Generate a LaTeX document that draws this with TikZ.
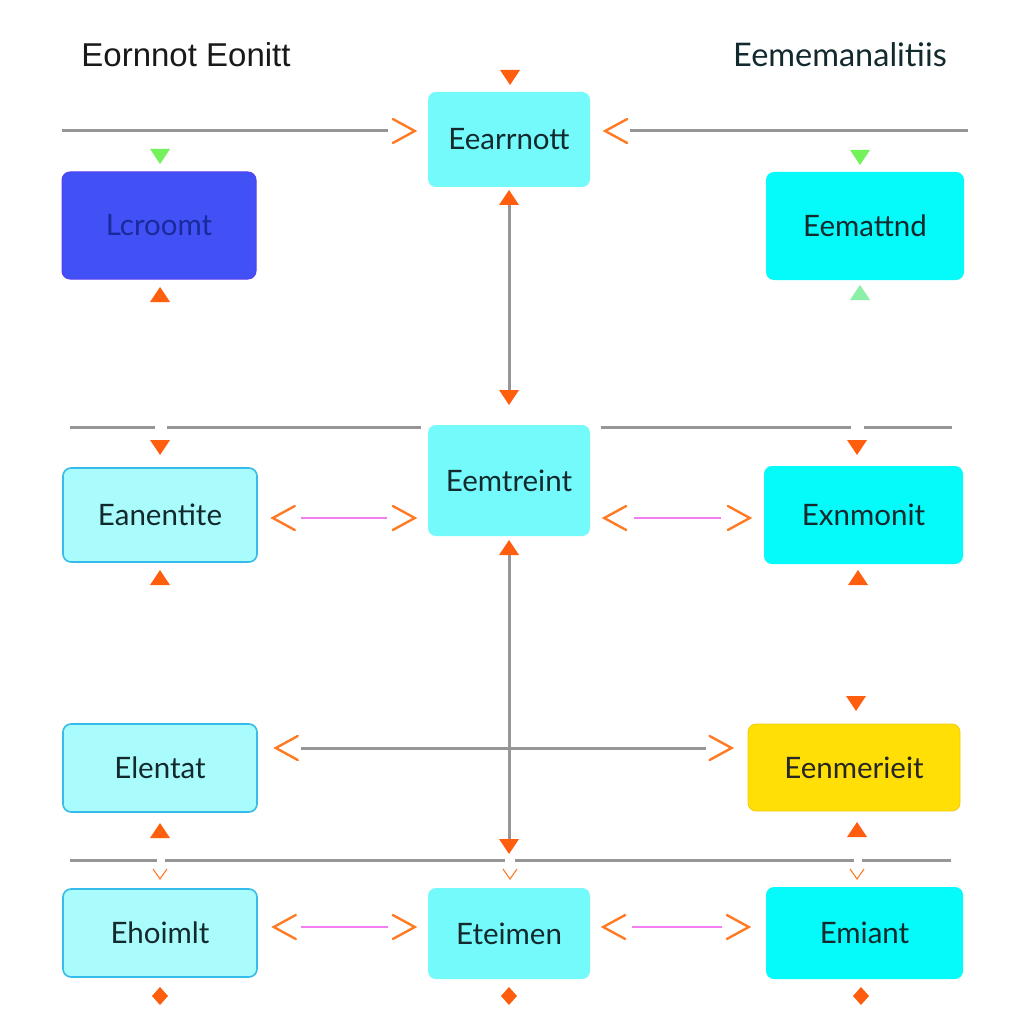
\documentclass[tikz,border=0pt]{standalone}
\usepackage{fontspec}
\setmainfont{Lato}
\newfontfamily\arialf{Liberation Sans}
\definecolor{orng}{HTML}{FF5E0E}
\definecolor{chevc}{HTML}{FF7A22}
\definecolor{gline}{HTML}{979595}
\definecolor{pinkl}{HTML}{F27EF0}
\definecolor{lcyan}{HTML}{74FAFA}
\definecolor{cyanf}{HTML}{05FAFA}
\definecolor{pcyan}{HTML}{AAFCFC}
\definecolor{pborder}{HTML}{36BCEB}
\definecolor{bluef}{HTML}{4151F6}
\definecolor{blueb}{HTML}{5A3FEF}
\definecolor{bluet}{HTML}{1A2A9A}
\definecolor{yellf}{HTML}{FFDF05}
\definecolor{yellb}{HTML}{F2CC10}
\definecolor{txt}{HTML}{12292D}
\definecolor{grn}{HTML}{74F25C}
\definecolor{grnb}{HTML}{8CEFA6}
\tikzset{
  box/.style={rounded corners=8pt, inner sep=0pt, align=center, text=txt,
    font=\fontsize{29.5}{32}\selectfont},
  paleb/.style={box, fill=pcyan, draw=pborder, line width=1.6pt},
  lcb/.style={box, fill=lcyan},
  cyb/.style={box, fill=cyanf},
  glin/.style={draw=gline, line width=3pt},
  plin/.style={draw=pinkl, line width=1.4pt},
  triD/.pic={\fill[#1] (-10,-7) -- (10,-7) -- (0,8) -- cycle;},
  triU/.pic={\fill[#1] (-10,7) -- (10,7) -- (0,-8) -- cycle;},
  chevR/.pic={\draw[chevc, line width=2.4pt, line cap=round] (-22,-12) -- (0,0) -- (-22,12);},
  chevL/.pic={\draw[chevc, line width=2.4pt, line cap=round] (22,-12) -- (0,0) -- (22,12);},
  vsmall/.pic={\draw[chevc, line width=1.1pt] (-7,-5) -- (0,5) -- (7,-5);},
  diam/.pic={\fill[orng] (0,-9) -- (8,0) -- (0,9) -- (-8,0) -- cycle;}
}
\begin{document}
\begin{tikzpicture}[x=1pt,y=-1pt]
\useasboundingbox[fill=white] (0,0) rectangle (1024,1024);

% titles
\node[font=\arialf\fontsize{33}{36}\selectfont, text=black!90] (t1) at (186,55) {Eornnot Eonitt};
\node[font=\fontsize{32.5}{36}\selectfont, text=txt] (t2) at (840,55) {Eememanalitiis};

% nodes
\node[lcb, minimum width=162pt, minimum height=95pt] (top) at (509,139.5) {Eearrnott};
\node[box, fill=bluef, draw=blueb, line width=1pt, text=bluet, minimum width=194pt, minimum height=107pt] (blue) at (159,225.5) {Lcroomt};
\node[cyb, minimum width=198pt, minimum height=108pt] (emat) at (865,226) {Eemattnd};
\node[lcb, minimum width=162pt, minimum height=111pt] (mid) at (509,480.5) {Eemtreint};
\node[paleb, minimum width=194pt, minimum height=94pt] (ean) at (160,515) {Eanentite};
\node[cyb, minimum width=199pt, minimum height=98pt] (exn) at (863.5,515) {Exnmonit};
\node[paleb, minimum width=194pt, minimum height=88pt] (ele) at (160,768) {Elentat};
\node[box, fill=yellf, draw=yellb, line width=0.8pt, text=black!85, minimum width=212pt, minimum height=87pt] (yel) at (854,767.5) {Eenmerieit};
\node[paleb, minimum width=194pt, minimum height=88pt] (eho) at (160,933) {Ehoimlt};
\node[lcb, minimum width=162pt, minimum height=91pt] (ete) at (509,933.5) {Eteimen};
\node[cyb, minimum width=197pt, minimum height=92pt] (emi) at (864.5,933) {Emiant};

% top horizontal lines
\coordinate (tl) at (62,131);
\coordinate (tr) at (968,131);
\draw[glin] (tl) -- ([xshift=-40pt]top.west |- tl);
\pic at ([xshift=-13pt]top.west |- tl) {chevR};
\draw[glin] (tr) -- ([xshift=40pt]top.east |- tr);
\pic at ([xshift=15pt]top.east |- tr) {chevL};

% markers around top node and vertical connector
\pic at (510,77) {triD=orng};
\pic at (509,198) {triU=orng};
\draw[glin] ([yshift=-18pt]top.south) -- ([yshift=30pt]mid.north);
\pic at (509,397) {triD=orng};

% blue / emat markers
\pic at (160,156) {triD=grn};
\pic at (160,295) {triU=orng};
\pic at (860,157) {triD=grn};
\pic at (860,293) {triU=grnb};

% mid row horizontal lines
\coordinate (ml) at (70,427);
\coordinate (mr) at (952,427);
\draw[glin] (ml) -- (155,427);
\draw[glin] (167,427) -- ([xshift=-7pt]mid.west |- ml);
\draw[glin] ([xshift=11pt]mid.east |- mr) -- (851,427);
\draw[glin] (864,427) -- (mr);
\pic at (160,447) {triD=orng};
\pic at (857,447) {triD=orng};
\pic at (160,578) {triU=orng};
\pic at (858,578) {triU=orng};
\pic at (509,548) {triU=orng};

% pink connectors mid row
\draw[plin] ([xshift=43pt]ean.east |- 0,518) -- ([xshift=-41pt]mid.west |- 0,518);
\pic at ([xshift=15pt]ean.east |- 0,518) {chevL};
\pic at ([xshift=-13pt]mid.west |- 0,518) {chevR};
\draw[plin] ([xshift=44pt]mid.east |- 0,518) -- ([xshift=-43pt]exn.west |- 0,518);
\pic at ([xshift=14pt]mid.east |- 0,518) {chevL};
\pic at ([xshift=-14pt]exn.west |- 0,518) {chevR};

% second vertical connector and cross line
\draw[glin] ([yshift=-19pt]mid.south) -- (509,840);
\pic at (509,846) {triD=orng};
\draw[glin] ([xshift=43pt]ele.east |- 0,748) -- ([xshift=-42pt]yel.west |- 0,748);
\pic at ([xshift=18pt]ele.east |- 0,748) {chevL};
\pic at ([xshift=-16pt]yel.west |- 0,748) {chevR};
\pic at (856,703) {triD=orng};
\pic at (160,831) {triU=orng};
\pic at (857,830) {triU=orng};

% bottom horizontal line
\coordinate (bl) at (70,860);
\coordinate (br) at (951,860);
\draw[glin] (bl) -- (157,860);
\draw[glin] (165,860) -- (505,860);
\draw[glin] (515,860) -- (854,860);
\draw[glin] (862,860) -- (br);
\pic at (160,874) {vsmall};
\pic at (510,874) {vsmall};
\pic at (857,874) {vsmall};

% pink connectors bottom row
\draw[plin] ([xshift=43pt]eho.east |- 0,927) -- ([xshift=-40pt]ete.west |- 0,927);
\pic at ([xshift=16pt]eho.east |- 0,927) {chevL};
\pic at ([xshift=-13pt]ete.west |- 0,927) {chevR};
\draw[plin] ([xshift=42pt]ete.east |- 0,927) -- ([xshift=-44pt]emi.west |- 0,927);
\pic at ([xshift=13pt]ete.east |- 0,927) {chevL};
\pic at ([xshift=-17pt]emi.west |- 0,927) {chevR};

% diamonds
\pic at (160,996) {diam};
\pic at (509,996) {diam};
\pic at (861,996) {diam};
\end{tikzpicture}
\end{document}
